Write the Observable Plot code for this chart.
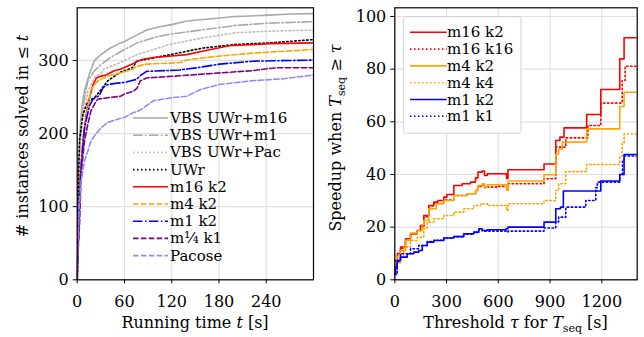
<!DOCTYPE html>
<html><head><meta charset="utf-8">
<script src="https://cdn.jsdelivr.net/npm/d3@7"></script>
<script src="https://cdn.jsdelivr.net/npm/@observablehq/plot@0.6"></script>
<style>
body{margin:0;background:#fff;}
#wrap{display:flex;width:644px;height:337px;background:#fff;}
#wrap svg text, #wrap svg tspan{font-family:'DejaVu Serif', serif !important;}
</style></head><body><div id="wrap"></div>
<script>
// ---------- Left panel data: [time t (s), # instances solved] ----------
const vbsUWrM16 = [[0,0],[0.5,60],[0.9,100],[1.7,146],[3,191],[4.2,214],[5.9,236],[9.3,259],[15.7,282],[21.9,300],[30,308],[42,317],[55,324],[60,326],[76,335],[89,342],[105,346],[120,349],[139,354],[160,356],[181,358],[200,360],[244,362],[270,363.5],[300,364]];
const vbsUWrM1 = [[0,0],[0.7,70],[1.5,120],[3,170],[5,213],[9.3,249],[13.5,272],[21.9,286],[30,294],[42,304],[55,312],[76,324],[100,332],[118,336],[160,342],[202,348],[244,351],[300,353]];
const vbsUWrPac = [[0,0],[1,80],[2,140],[4,190],[7.2,220],[13.5,258],[21.9,276],[30.3,283],[33.6,288],[54.7,297],[75.8,308],[118,322],[160,331],[202,338],[244,340],[300,341.5]];
const uwr = [[0,0],[0.5,60],[1,100],[1.7,146],[3,191],[7.2,226],[13.5,244],[21.9,249],[30.3,260],[38.6,272],[55,284],[70,290],[76,299],[118,308],[160,317],[202,322],[244,324],[300,328.5]];
const m16k2L = [[0,0],[0.8,31],[2.5,99],[4.2,145],[7.2,190],[11.4,226],[15.6,249],[20.2,267],[24.4,276],[30.3,278.6],[36.6,280],[47,286],[55,288],[70,295],[76,299],[85,302],[96.8,304],[139,308],[160,313],[193,320],[244,323],[300,324]];
const m4k2L = [[0,0],[1,40],[3.8,135],[7.2,185],[11.4,222],[17.5,260],[26,272],[38.6,278.6],[55,283],[70,288],[76,292],[88,295],[130,297],[140,301],[181,306],[223,310],[300,315]];
const m1k2L = [[0,0],[1,40],[2.5,100],[5,154],[9.3,208],[15.6,238],[20,247],[28,252],[33,263],[38.6,267],[51,269],[60,270],[67,272],[75,274],[80,279],[88,285],[130,287],[152,290],[181,295],[223,299],[300,300.5]];
const mQk1L = [[0,0],[0.8,31],[3,76],[5,146],[9.3,190],[13.5,213],[17.5,231],[21.9,240],[26,247],[38.6,249],[55,251],[60,254],[71.6,258],[76,262],[80,272],[88,276],[130,279],[181,283],[223,286],[244,289],[255,290],[300,290]];
const pacose = [[0,0],[0.8,45],[2.5,100],[5,135],[9.3,163],[13.5,176],[17.5,190],[21.9,197],[30.3,208],[38.6,215],[51,219.6],[60,222],[70,228],[80,232],[97,245],[120,249],[139,251],[156,260],[180,267],[220,272],[262,275],[300,280]];
const leftNames = ["VBS UWr+m16","VBS UWr+m1","VBS UWr+Pac","UWr","m16 k2","m4 k2","m1 k2","m\u00B9\u2044\u2084 k1","Pacose"];
const leftTicksX = [0,60,120,180,240];
const leftTicksY = [0,100,200,300];

// ---------- Right panel data: [threshold tau (s), speedup] (step functions) ----------
const m16k2R = [[0,4],[4,7.3],[15,10],[33,12.4],[62,15.6],[91,17.5],[130,18.7],[149,20.6],[168,24.4],[197,28.2],[226,29.5],[250,30.1],[284,31.4],[302,32.4],[342,35.8],[391,36.5],[439,37.1],[468,38.7],[482,40.9],[507,41.3],[520,39.6],[536,40.3],[648,38.5],[656,41.8],[865,44],[933,52.9],[957,54.2],[981,57.7],[1112,62.8],[1194,72.3],[1304,83.9],[1329,91.9],[1405,91.9]];
const m16k16R = [[0,4],[4,7.3],[33,12],[62,15],[91,17.5],[130,18.7],[149,20.3],[168,24],[197,28],[226,29],[284,30.3],[342,32],[420,32.7],[468,33.9],[482,35.5],[507,36],[520,35],[536,35.2],[600,35.5],[648,34],[656,36.5],[865,38.4],[933,50.4],[991,53.9],[1119,58.6],[1194,67.1],[1318,75.7],[1335,81.1],[1405,81.1]];
const m4k2R = [[0,4],[4,6.5],[33,11.1],[62,15],[91,17.8],[130,18.7],[160,21],[168,22.5],[197,27],[240,28.9],[284,30.1],[342,32],[420,32.7],[468,33.9],[482,35.8],[507,36.5],[520,35.2],[536,36.1],[648,34],[656,37.5],[865,39.9],[933,47.8],[950,49.7],[971,52.3],[1112,57.3],[1304,65.8],[1329,71.2],[1405,71.2]];
const m4k4R = [[0,3],[14,8.6],[52,12.4],[91,14.9],[130,16.2],[168,19.4],[188,21.9],[226,23.2],[284,24.4],[342,25.7],[400,27],[458,28.2],[497,28.9],[536,28.2],[648,26.3],[656,28.9],[865,30.1],[933,33.9],[950,36.5],[991,41.1],[1112,43.8],[1304,47],[1318,52],[1329,55.4],[1405,55.4]];
const m1k2R = [[0,2],[4,4.8],[14,7.3],[33,8.6],[72,9.9],[110,10.5],[139,11.1],[159,13],[188,14.3],[226,14.9],[284,15.9],[342,16.4],[400,17.5],[458,18.1],[487,19.4],[507,18.7],[536,19],[645,19.4],[656,20],[865,21.9],[933,27],[960,27.6],[977,33.7],[1194,37.5],[1304,40],[1329,47.6],[1405,47.6]];
const m1k1R = [[0,2],[14,7],[33,9.9],[91,11.8],[139,13],[188,14.5],[226,15],[284,15.9],[342,16.4],[400,17.3],[458,18],[487,19],[507,18.5],[645,18.2],[656,18.5],[865,19.7],[933,22],[950,23.8],[991,27.6],[1107,30.1],[1165,35],[1174,37.1],[1304,40],[1320,45],[1329,47],[1405,47]];
const rightNames = ["m16 k2","m16 k16","m4 k2","m4 k4","m1 k2","m1 k1"];
const rightTicksX = [0,300,600,900,1200];
const rightTicksY = [0,20,40,60,80,100];

// ---------- styles ----------
const FONT = "'DejaVu Serif', serif";
const DASH = "5.5,2.4", DASHDOT = "9.6,2.4,1.5,2.4", DOT = "1.5,2.5";
const leftSeries = [
  {data: vbsUWrM16, color: "#a9a9a9", dash: null},
  {data: vbsUWrM1, color: "#a9a9a9", dash: DASHDOT},
  {data: vbsUWrPac, color: "#bcbcbc", dash: DOT},
  {data: uwr, color: "#000000", dash: DOT},
  {data: m16k2L, color: "#ff0000", dash: null},
  {data: m4k2L, color: "#ffa500", dash: DASH},
  {data: m1k2L, color: "#0000ff", dash: DASHDOT},
  {data: mQk1L, color: "#800080", dash: DASH},
  {data: pacose, color: "#8c8cff", dash: DASH}
].map((s, i) => ({...s, name: leftNames[i]}));
const rightSeries = [
  {data: m16k2R, color: "#ff0000", dash: null},
  {data: m16k16R, color: "#ff0000", dash: DOT},
  {data: m4k2R, color: "#ffa500", dash: null},
  {data: m4k4R, color: "#ffa500", dash: DOT},
  {data: m1k2R, color: "#0000ff", dash: null},
  {data: m1k1R, color: "#0000ff", dash: DOT}
].map((s, i) => ({...s, name: rightNames[i]}));

function panel({width, margins, xDomain, yDomain, xTicks, yTicks, series, curve}) {
  return Plot.plot({
    width, height: 337,
    marginLeft: margins[0], marginRight: margins[1], marginTop: margins[2], marginBottom: margins[3],
    x: {domain: xDomain}, y: {domain: yDomain},
    style: {fontFamily: FONT, fontSize: "16px", color: "black", background: "white", overflow: "visible"},
    marks: [
      Plot.gridX(xTicks, {stroke: "#e0e0e0", strokeOpacity: 1, strokeWidth: 1.2}),
      Plot.gridY(yTicks, {stroke: "#e0e0e0", strokeOpacity: 1, strokeWidth: 1.2}),
      ...series.map(s => Plot.line(s.data, {
        x: d => d[0], y: d => d[1], stroke: s.color, strokeWidth: 1.6,
        strokeDasharray: s.dash ?? undefined, curve, clip: true
      })),
      Plot.frame({stroke: "black", strokeWidth: 1.2}),
      Plot.axisX(xTicks, {tickSize: 4, tickPadding: 12, label: null, fontSize: 16, tickFormat: d => String(d)}),
      Plot.axisY(yTicks, {tickSize: 4, tickPadding: 4.5, label: null, fontSize: 16, tickFormat: d => String(d)})
    ]
  });
}

function addLabel(svg, x, y, rot, parts) {
  const t = d3.select(svg).append("text")
    .attr("transform", `translate(${x},${y}) rotate(${rot})`)
    .attr("text-anchor", "middle").attr("font-family", FONT).attr("font-size", 16).attr("fill", "black");
  parts.forEach(p => {
    const s = t.append("tspan").text(p.t);
    if (p.i) s.attr("font-style", "italic");
    if (p.sub) s.attr("font-size", 11).attr("dy", 4);
    if (p.back) s.attr("dy", -4);
  });
}

function addLegend(svg, series, x0, x1, y0, dy, textX, box) {
  const g = d3.select(svg).append("g");
  if (box) g.append("rect").attr("x", box[0]).attr("y", box[1]).attr("width", box[2]).attr("height", box[3])
    .attr("rx", 3).attr("fill", "white").attr("fill-opacity", 0.85).attr("stroke", "#d0d0d0").attr("stroke-width", 1);
  series.forEach((s, i) => {
    const y = y0 + i * dy;
    const l = g.append("line").attr("x1", x0).attr("x2", x1).attr("y1", y).attr("y2", y)
      .attr("stroke", s.color).attr("stroke-width", 1.6);
    if (s.dash) l.attr("stroke-dasharray", s.dash);
    g.append("text").attr("x", textX).attr("y", y + 5).attr("text-anchor", "start")
      .attr("font-family", FONT).attr("font-size", 15).attr("fill", "black").text(s.name);
  });
}

const wrap = document.getElementById("wrap");

const left = panel({width: 322, margins: [76.7, 9, 7.3, 57.7], xDomain: [0, 300], yDomain: [0, 372],
  xTicks: leftTicksX, yTicks: leftTicksY, series: leftSeries, curve: "linear"});
wrap.appendChild(left);
addLegend(left, leftSeries, 133, 168, 118, 17.2, 170, null);
addLabel(left, 195, 328, 0, [{t: "Running time "}, {t: "t", i: true}, {t: " [s]"}]);
addLabel(left, 27.5, 136, -90, [{t: "# instances solved in \u2264 "}, {t: "t", i: true}]);

const right = panel({width: 322, margins: [72.3, 7.3, 7.3, 57.7], xDomain: [0, 1405], yDomain: [0, 103.3],
  xTicks: rightTicksX, yTicks: rightTicksY, series: rightSeries, curve: "step-after"});
wrap.appendChild(right);
addLegend(right, rightSeries, 88, 124.7, 32.3, 16.8, 125, [81.3, 16.7, 117.7, 116.6]);
addLabel(right, 193.5, 328, 0, [{t: "Threshold "}, {t: "\u03C4", i: true}, {t: " for "}, {t: "T", i: true}, {t: "seq", sub: true}, {t: " [s]", back: true}]);
addLabel(right, 18.5, 138, -90, [{t: "Speedup when "}, {t: "T", i: true}, {t: "seq", sub: true}, {t: " \u2265 ", back: true}, {t: "\u03C4", i: true}]);
</script>
</body></html>
